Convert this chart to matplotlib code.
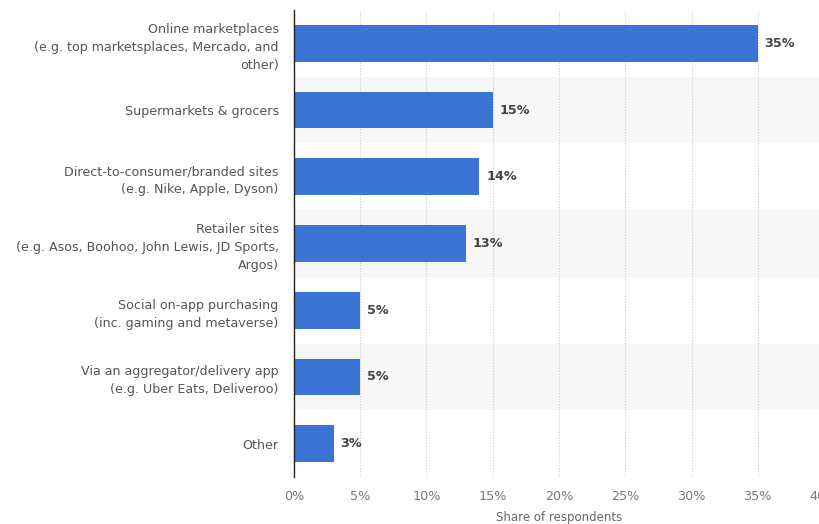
import matplotlib
matplotlib.use("Agg")
import matplotlib.pyplot as plt
from matplotlib.ticker import MultipleLocator, FuncFormatter

categories = [
    "Online marketplaces\n(e.g. top marketsplaces, Mercado, and\nother)",
    "Supermarkets & grocers",
    "Direct-to-consumer/branded sites\n(e.g. Nike, Apple, Dyson)",
    "Retailer sites\n(e.g. Asos, Boohoo, John Lewis, JD Sports,\nArgos)",
    "Social on-app purchasing\n(inc. gaming and metaverse)",
    "Via an aggregator/delivery app\n(e.g. Uber Eats, Deliveroo)",
    "Other",
]
values = [35, 15, 14, 13, 5, 5, 3]
xlabel = "Share of respondents"

plt.rcParams['font.family'] = ['DejaVu Sans']

fig = plt.figure(figsize=(8.2, 5.24), dpi=100)
ax = fig.add_axes([294/820, 1-477/524, 530/820, 467/524])

n = len(categories)
ypos = list(range(n))
for i in ypos:
    if i % 2 == 1:
        ax.axhspan(i - 0.5, i + 0.5, color="#f7f7f7", zorder=0, lw=0)

ax.barh(ypos, values, height=0.55, color="#3c74d6", zorder=3)
for y, v in zip(ypos, values):
    ax.text(v + 0.5, y, f"{v}%", va="center", ha="left", fontsize=9.2,
            fontweight="bold", color="#444444", zorder=4)

ax.set_xlim(0, 40)
ax.set_ylim(n - 0.5, -0.5)
ax.set_yticks(ypos)
ax.set_yticklabels(categories, fontsize=9.1, color="#555555", linespacing=1.5)
ax.xaxis.set_major_locator(MultipleLocator(5))
ax.xaxis.set_major_formatter(FuncFormatter(lambda x, p: f"{int(x)}%"))
ax.tick_params(axis="x", colors="#777777", labelsize=9.2, length=0, pad=9)
ax.tick_params(axis="y", length=0, pad=11)
ax.grid(axis="x", color="#cccccc", linestyle=(0, (1, 1.5)), linewidth=0.8, zorder=1)
ax.set_axisbelow(True)
for s in ["top", "right", "bottom"]:
    ax.spines[s].set_visible(False)
ax.spines["left"].set_color("#222222")
ax.spines["left"].set_linewidth(1.0)
ax.spines["left"].set_zorder(5)
ax.set_xlabel(xlabel, fontsize=8.5, color="#666666", labelpad=6)

fig.savefig("out.png", dpi=100)
